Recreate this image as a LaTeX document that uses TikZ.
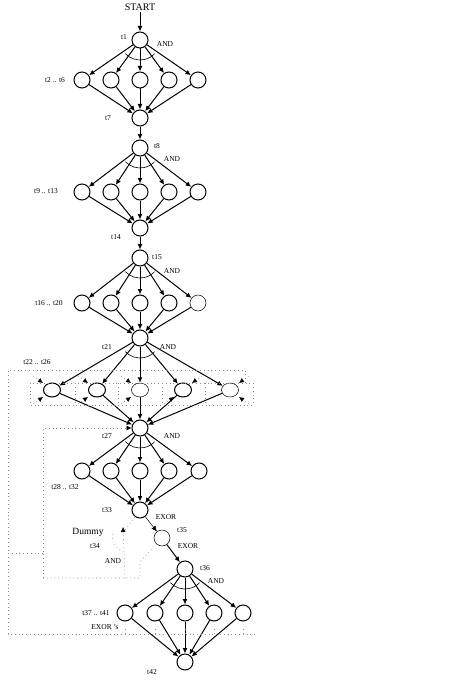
\documentclass[tikz,border=0pt]{standalone}
\usepackage{fontspec}
\setmainfont{Liberation Serif}
\usetikzlibrary{shapes.geometric, arrows.meta, positioning}
\tikzstyle{place} = [circle, draw=black, line width=1pt, minimum size=16pt, inner sep=0pt]
\tikzstyle{lplace} = [place, line width=0.5pt]
\tikzstyle{wplace} = [ellipse, draw=black, line width=1pt, minimum width=17pt, minimum height=14pt, inner sep=0pt]
\tikzstyle{lwplace} = [wplace, line width=0.5pt]
\tikzstyle{arrow} = [line width=1pt, -{Latex[length=5.5pt,width=5pt]}]
\tikzstyle{larrow} = [line width=0.5pt, -{Latex[length=5.5pt,width=5pt]}]
\tikzstyle{dotline} = [black!45, line width=0.6pt, dash pattern=on 0.8pt off 3pt]
\tikzstyle{dotarrow} = [dotline, -{Latex[length=5pt,width=5pt,black]}]
\tikzstyle{lbl} = [font=\fontsize{7.5}{9}\selectfont, inner sep=1pt]
\newcommand{\andarc}[1]{\draw[line width=0.6pt] ([shift={(223:20pt)}]#1.center) arc[start angle=223, end angle=317, radius=20pt];}

\begin{document}
\begin{tikzpicture}[x=1pt,y=-1pt]
\useasboundingbox (0,0) rectangle (474,682);

% first block
\node[font=\fontsize{10}{12}\selectfont, inner sep=1pt] (start) at (140,7) {START};
\node[place] (t1) at (140,40) {};
\node[place] (a1) at (82,80) {};
\node[place] (a2) at (111,80) {};
\node[place] (a3) at (140,80) {};
\node[place] (a4) at (169,80) {};
\node[place] (a5) at (198,80) {};
\node[place] (t7) at (140,118) {};

% second block
\node[place] (t8) at (140,148) {};
\node[place] (b1) at (82,192) {};
\node[place] (b2) at (111,192) {};
\node[place] (b3) at (140,192) {};
\node[place] (b4) at (169,192) {};
\node[place] (b5) at (198,192) {};
\node[place] (t14) at (140,228) {};

% third block
\node[place] (t15) at (140,258) {};
\node[place] (c1) at (82,303) {};
\node[place] (c2) at (111,303) {};
\node[place] (c3) at (140,303) {};
\node[place] (c4) at (169,303) {};
\node[lplace] (c5) at (198,303) {};
\node[place] (t21) at (140,338) {};

% fourth block
\node[wplace] (d1) at (52,390) {};
\node[wplace] (d2) at (97,390) {};
\node[lwplace] (d3) at (140,390) {};
\node[wplace] (d4) at (183,390) {};
\node[lwplace] (d5) at (230,390) {};
\node[place] (t27) at (140,428) {};

% fifth block
\node[place] (e1) at (82,471) {};
\node[place] (e2) at (111,471) {};
\node[place] (e3) at (140,471) {};
\node[place] (e4) at (169,471) {};
\node[place] (e5) at (199,471) {};
\node[place] (t33) at (140,510) {};
\node[lplace] (t35) at (162,538) {};
\node[place] (t36) at (185,569) {};

% last block
\node[place] (f1) at (125,613) {};
\node[place] (f2) at (155,613) {};
\node[place] (f3) at (185,613) {};
\node[place] (f4) at (214,613) {};
\node[place] (f5) at (243,613) {};
\node[place] (t42) at (185,662) {};

% connectors
\draw[arrow] (start) -- (t1);
\draw[arrow] (t7) -- (t8);
\draw[arrow] (t14) -- (t15);
\foreach \i in {1,...,5} {
    \draw[arrow] (t1) -- (a\i);  \draw[arrow] (a\i) -- (t7);
    \draw[arrow] (t8) -- (b\i);  \draw[arrow] (b\i) -- (t14);
    \draw[arrow] (t15) -- (c\i); \draw[arrow] (c\i) -- (t21);
    \draw[arrow] (t21) -- (d\i); \draw[arrow] (d\i) -- (t27);
    \draw[arrow] (t27) -- (e\i); \draw[arrow] (e\i) -- (t33);
    \draw[arrow] (t36) -- (f\i); \draw[arrow] (f\i) -- (t42);
}
\draw[larrow] (t33) -- (t35);
\draw[arrow] (t35) -- (t36);

\andarc{t1}
\andarc{t8}
\andarc{t15}
\andarc{t21}
\andarc{t27}
\andarc{t36}

% dotted loops
\coordinate (out-1) at (8,634);
\coordinate (out-2) at (8,370);
\coordinate (out-3) at (245,370);
\coordinate (out-4) at (245,383);
\coordinate (out-5) at (255,634);
\draw[dotline] (out-5) -- (out-1) -- (out-2) -- (out-3) -- (out-4);
\draw[dotline] (30,383) rectangle (253,405);
\foreach \x in {75,118,162,205} \draw[dotline] (\x,383) -- (\x,405);
\foreach \i in {1,...,5} \draw[dotline] (f\i |- out-1) -- ([yshift=-5pt]f\i.south);
\draw[dotline] (8,553) -- (43,553);

\foreach \i in {1,2,3} {
    \draw[dotarrow] ([shift={(-19pt,14pt)}]d\i.center) -- ([shift={(-9pt,7pt)}]d\i.center);
    \draw[dotarrow] ([shift={(-19pt,-14pt)}]d\i.center) -- ([shift={(-9pt,-7pt)}]d\i.center);
}
\draw[dotarrow] ([shift={(19pt,14pt)}]d4.center) -- ([shift={(9pt,7pt)}]d4.center);
\draw[dotarrow] ([shift={(-19pt,-14pt)}]d4.center) -- ([shift={(-9pt,-7pt)}]d4.center);
\draw[dotarrow] ([shift={(19pt,14pt)}]d5.center) -- ([shift={(9pt,7pt)}]d5.center);
\draw[dotarrow] ([shift={(19pt,-14pt)}]d5.center) -- ([shift={(9pt,-7pt)}]d5.center);

\coordinate (in-1) at (43,578);
\coordinate (in-2) at (140,578);
\coordinate (in-3) at (140,562);
\draw[dotarrow] (in-1) |- (t27);
\draw[dotline] (in-1) -- (in-2) -- (in-3) -- (t35);

\coordinate (dummy) at (123,527);
\coordinate (dummy-low) at (125,578);
\draw[dotarrow] (dummy-low) -- (dummy);
\draw[dotline] (t33) -- ([shift={(2pt,-3pt)}]dummy);
\draw[dotline] (113,534) -- (112,543) -- (124,553);

% labels
\node[lbl] (l-t1) at (124,37) {t1};
\node[lbl] (and-1) at (165,44) {AND};
\node[lbl] (l-a) at (55,80) {t2 .. t6};
\node[lbl] (l-t7) at (108,118) {t7};
\node[lbl] (l-t8) at (157,146) {t8};
\node[lbl] (and-2) at (172,159) {AND};
\node[lbl] (l-b) at (46,191) {t9 .. t13};
\node[lbl] (l-t14) at (116,237) {t14};
\node[lbl] (l-t15) at (157,257) {t15};
\node[lbl] (and-3) at (172,271) {AND};
\node[lbl] (l-c) at (49,303) {t16 .. t20};
\node[lbl] (l-t21) at (107,347) {t21};
\node[lbl] (and-4) at (168,347) {AND};
\node[lbl] (l-d) at (37,362) {t22 .. t26};
\node[lbl] (l-t27) at (107,436) {t27};
\node[lbl] (and-5) at (172,436) {AND};
\node[lbl] (l-e) at (65,487) {t28 .. t32};
\node[lbl] (l-t33) at (107,510) {t33};
\node[lbl] (exor-1) at (166,517) {EXOR};
\node[font=\fontsize{9.5}{11}\selectfont, inner sep=1pt] (l-dummy) at (88,532) {Dummy};
\node[lbl] (l-t34) at (95,546) {t34};
\node[lbl] (l-t35) at (182,530) {t35};
\node[lbl] (exor-2) at (188,546) {EXOR};
\node[lbl] (and-6) at (113,561) {AND};
\node[lbl] (l-t36) at (205,568) {t36};
\node[lbl] (and-7) at (216,581) {AND};
\node[lbl] (l-f) at (96,613) {t37 .. t41};
\node[lbl] (exor-3) at (105,627) {EXOR 's};
\node[lbl] (l-t42) at (152,672) {t42};

\end{tikzpicture}
\end{document}
